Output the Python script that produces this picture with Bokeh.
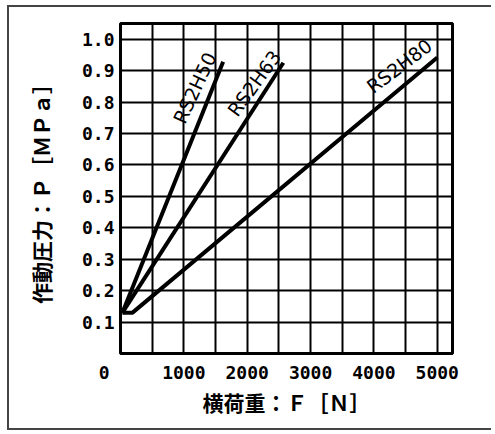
from bokeh.plotting import figure
from bokeh.models import FixedTicker, ColumnDataSource
from bokeh.core.properties import value
from bokeh.embed import file_html
from bokeh.resources import INLINE

# ---- data ----
x_ticks = [0, 1000, 2000, 3000, 4000, 5000]
x_grid = [500, 1000, 1500, 2000, 2500, 3000, 3500, 4000, 4500, 5000]
y_ticks = [0.1, 0.2, 0.3, 0.4, 0.5, 0.6, 0.7, 0.8, 0.9, 1.0]

rs2h50_x = [30, 1620]
rs2h50_y = [0.13, 0.928]
rs2h63_x = [30, 2570]
rs2h63_y = [0.13, 0.925]
rs2h80_x = [30, 190, 5000]
rs2h80_y = [0.13, 0.13, 0.942]

label_names = ["RS2H50", "RS2H63", "RS2H80"]
label_x = [1170, 2110, 4400]
label_y = [0.845, 0.86, 0.915]
label_angle = [65, 54, 37]

p = figure(width=484, height=425, x_range=(0, 5240), y_range=(0, 1.05),
           output_backend="svg", toolbar_location=None,
           min_border_left=111, min_border_right=41,
           min_border_top=16, min_border_bottom=79)

p.styles = {"margin-left": "7px", "margin-top": "5px",
            "border-left": "2px solid #444444",
            "border-top": "2px solid #444444",
            "border-bottom": "2px solid #444444"}

p.outline_line_color = "black"
p.outline_line_width = 3
p.outline_line_alpha = 1.0

for ax in (p.xaxis, p.yaxis):
    ax.axis_line_color = None
    ax.major_tick_line_color = None
    ax.minor_tick_line_color = None
    ax.major_label_text_font = "DejaVu Sans Mono"
    ax.major_label_text_font_style = "bold"
    ax.major_label_text_font_size = "18px"
    ax.major_label_text_color = "black"
    ax.axis_label_text_font = "Noto Sans CJK JP"
    ax.axis_label_text_font_style = "bold"
    ax.axis_label_text_color = "black"

p.xaxis.ticker = FixedTicker(ticks=x_ticks)
p.yaxis.ticker = FixedTicker(ticks=y_ticks)
x_labels = {v: str(v) for v in x_ticks}
x_labels[0] = "0\u00a0\u00a0\u00a0"
p.xaxis.major_label_overrides = x_labels
p.yaxis.major_label_overrides = {v: f"{v:.1f}" for v in y_ticks}
p.xaxis.major_label_standoff = 2
p.yaxis.major_label_standoff = 0
p.xaxis.axis_label = "横荷重：Ｆ［Ｎ］"
p.yaxis.axis_label = "作動圧力：Ｐ［ＭＰａ］"
p.xaxis.axis_label_text_font_size = "21px"
p.yaxis.axis_label_text_font_size = "21px"
p.xaxis.axis_label_standoff = 1
p.yaxis.axis_label_standoff = 23

p.xgrid.ticker = FixedTicker(ticks=x_grid)
p.ygrid.ticker = FixedTicker(ticks=y_ticks)
for g in (p.xgrid, p.ygrid):
    g.grid_line_color = "black"
    g.grid_line_width = 2
    g.grid_line_alpha = 1.0

p.line(rs2h50_x, rs2h50_y, line_color="black", line_width=4)
p.line(rs2h63_x, rs2h63_y, line_color="black", line_width=4)
p.line(rs2h80_x, rs2h80_y, line_color="black", line_width=4)

src = ColumnDataSource(dict(x=label_x, y=label_y, t=label_names, a=label_angle))
p.text(x="x", y="y", text="t", angle="a", angle_units="deg", source=src,
       text_font=value("DejaVu Sans"), text_font_size="19px",
       text_align="center", text_baseline="middle", text_color="black")

open("out.html", "w").write(file_html(p, INLINE))
